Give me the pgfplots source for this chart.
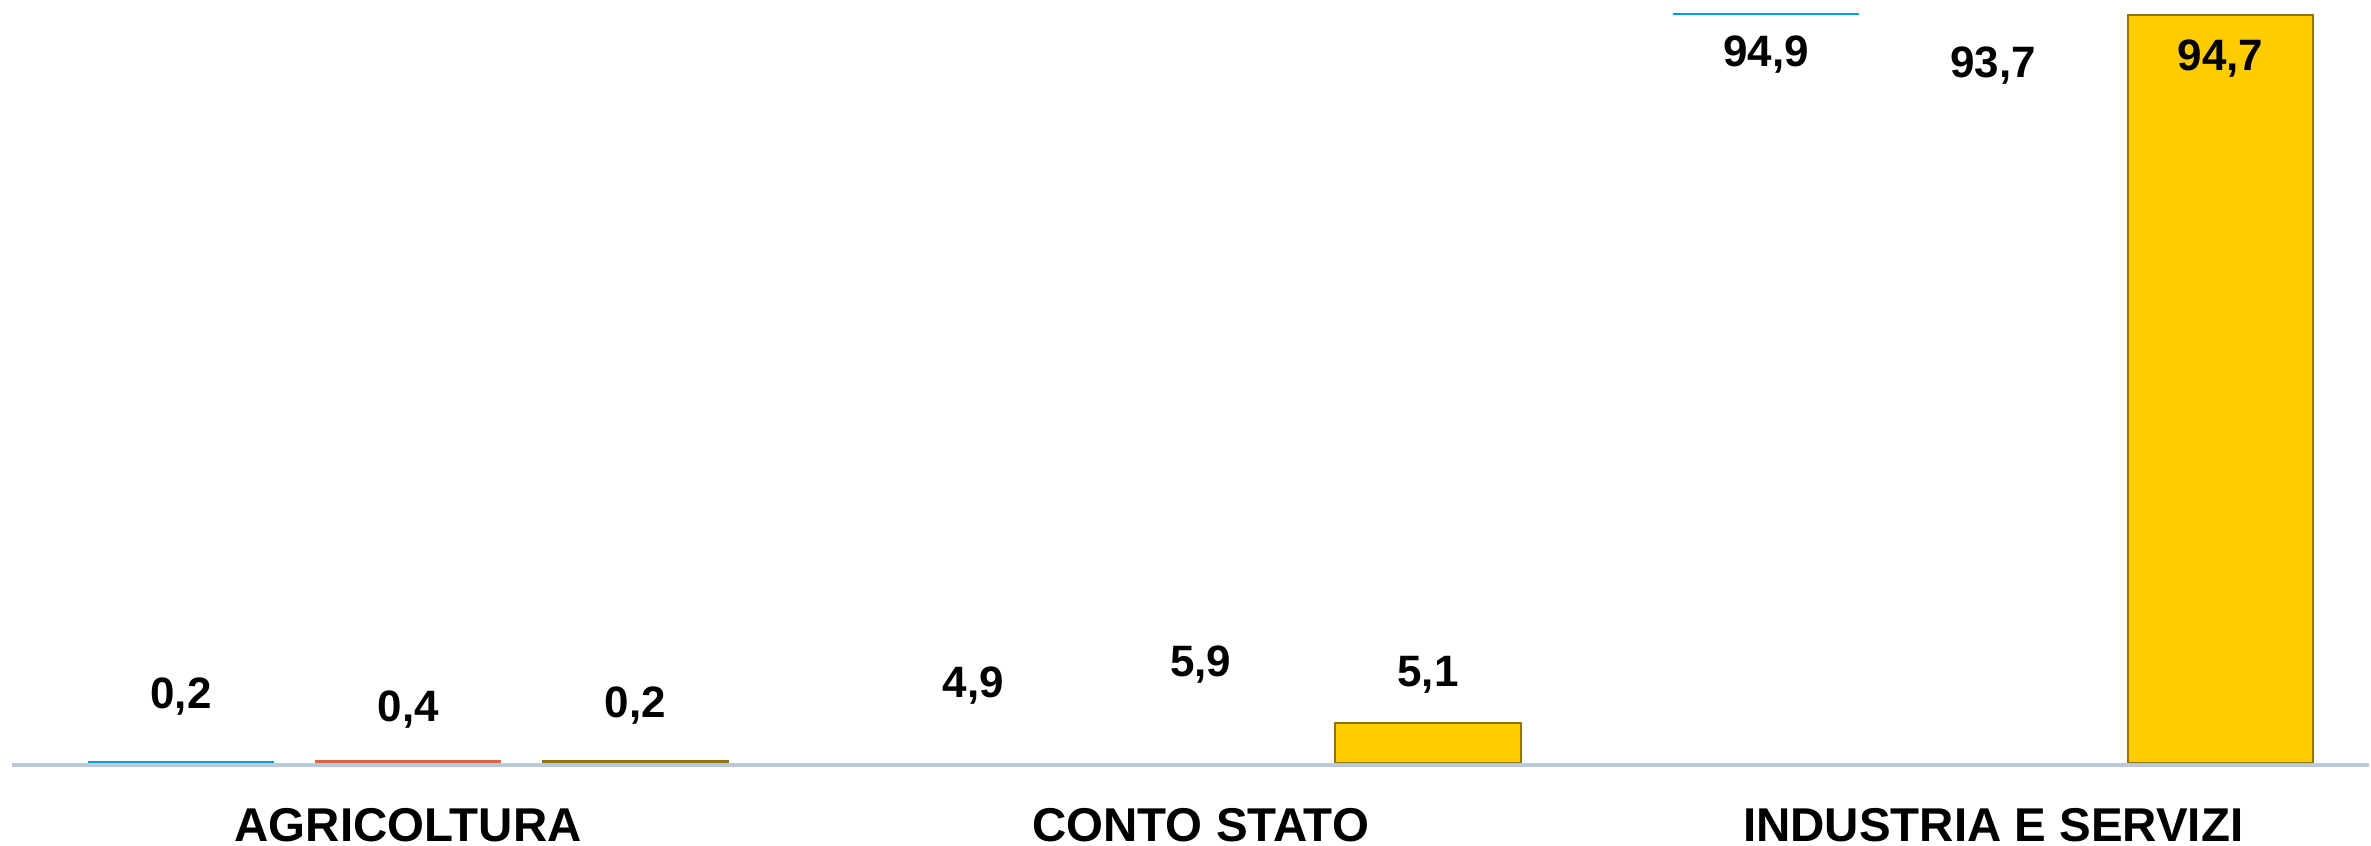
\documentclass[border=0pt]{standalone}
\usepackage{pgfplots}
\pgfplotsset{compat=1.18}
\usepackage{fontspec}
\setmainfont{Liberation Sans}
\definecolor{sblue}{RGB}{0,157,217}
\definecolor{sred}{RGB}{232,96,60}
\definecolor{syellow}{RGB}{255,204,0}
\definecolor{sedge}{RGB}{150,115,0}
\definecolor{axisgrey}{RGB}{185,201,218}
\begin{document}
\begin{tikzpicture}
\begin{axis}[
  scale only axis,
  width=474.2pt, height=152.6pt,
  xmin=-0.5151, xmax=2.4739,
  ymin=0, ymax=96.58,
  clip=false,
  axis line style={draw=none},
  ytick=\empty,
  xtick={0,1,2},
  xticklabels={AGRICOLTURA,CONTO STATO,INDUSTRIA E SERVIZI},
  major tick length=0pt,
  xticklabel style={font=\bfseries\fontsize{9.5}{10}\selectfont, anchor=north,
    inner sep=0pt, outer sep=0pt, text height=6.8pt, text depth=0.7pt, yshift=-9.0pt},
  bar width=37.2pt,
]
% series 1 (invisible/white except agricoltura)
\addplot[ybar, bar shift=-45.5pt, fill=white, draw=none] coordinates {(1,4.9) (2,94.9)};
\addplot[ybar, bar shift=-45.5pt, fill=sblue, draw=none] coordinates {(0,0.2)};
\addplot[sblue, line width=0.45pt] coordinates {(1.5960,94.9) (1.8304,94.9)};
% series 2
\addplot[ybar, bar shift=0pt, fill=white, draw=none] coordinates {(1,5.9) (2,93.7)};
\addplot[ybar, bar shift=0pt, fill=sred, draw=none] coordinates {(0,0.4)};
% series 3
\addplot[ybar, bar shift=45.5pt, fill=syellow, draw=sedge, line width=0.4pt] coordinates {(0,0.2) (1,5.1) (2,94.7)};
% axis baseline (top edge at y=0)
\draw[axisgrey, line width=0.9pt, yshift=-0.45pt] (axis cs:-0.5,0) -- (axis cs:2.4739,0);
% value labels
\addplot[draw=none, mark=none, nodes near coords, point meta=explicit symbolic,
  nodes near coords style={anchor=center, inner sep=0pt, font=\bfseries\fontsize{8.8}{9}\selectfont, text=black}]
  table[meta=lab] {
x y lab
-0.2868 8.4 {0,2}
0 6.8 {0,4}
0.2868 7.3 {0,2}
0.7132 9.8 {4,9}
1 12.5 {5,9}
1.2868 11.2 {5,1}
1.7132 89.7 {94,9}
2 88.3 {93,7}
2.2868 89.2 {94,7}
};
\end{axis}
\end{tikzpicture}
\end{document}
